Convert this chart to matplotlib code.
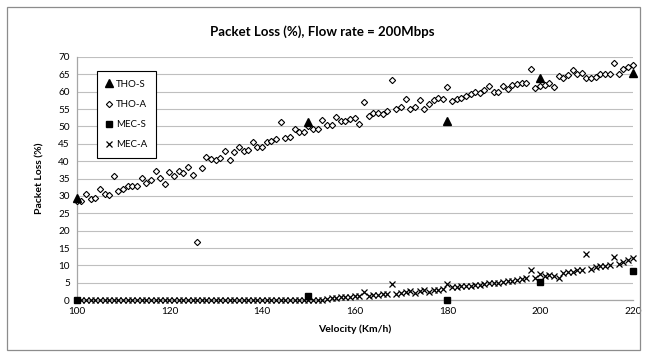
import numpy as np
import matplotlib.pyplot as plt
from matplotlib.patches import Rectangle

plt.rcParams['font.family'] = ['Lato', 'DejaVu Sans']

# velocity axis (km/h), one sample per km/h for the "A" series
velocity = list(range(100, 221))

tho_a = [28.5, 28.5, 30.5, 29.0, 29.5, 32.1, 30.5, 30.2, 35.7, 31.4,
         32.1, 32.8, 32.8, 32.8, 35.2, 33.7, 34.6, 37.3, 35.2, 33.3,
         37.0, 35.6, 37.3, 36.5, 38.2, 36.1, 16.7, 38.0, 41.3, 40.5,
         40.2, 40.8, 43.0, 40.2, 42.5, 44.0, 43.0, 43.2, 45.4, 44.0,
         44.2, 45.6, 45.9, 46.4, 51.3, 46.8, 47.0, 49.4, 48.3, 48.3,
         50.0, 49.4, 49.3, 51.9, 50.4, 50.5, 52.8, 51.5, 51.5, 52.0,
         52.4, 50.6, 57.1, 52.9, 53.9, 53.9, 53.7, 54.4, 63.3, 55.0,
         55.5, 57.8, 55.0, 55.5, 57.7, 55.0, 56.4, 57.7, 58.3, 58.0,
         61.4, 57.3, 57.8, 58.3, 58.9, 59.3, 60.0, 59.5, 60.6, 61.7,
         59.8, 60.0, 61.7, 60.9, 61.9, 62.2, 62.4, 62.4, 66.6, 61.2,
         61.5, 62.0, 62.6, 61.4, 64.5, 63.9, 64.7, 66.2, 65.2, 65.5,
         64.0, 63.9, 64.3, 65.0, 65.2, 65.2, 68.4, 65.2, 66.6, 67.2,
         67.7]

mec_a = [0.0] * 54 + [
    0.3, 0.5, 0.6, 0.8, 1.0, 1.0, 1.2, 1.3, 2.3, 1.3,
    1.5, 1.5, 1.7, 1.8, 4.6, 1.7, 2.0, 2.2, 2.5, 2.0,
    2.7, 3.0, 2.4, 2.8, 3.0, 3.3, 4.5, 3.8, 3.9, 4.0,
    4.1, 4.2, 4.3, 4.4, 4.6, 4.8, 4.9, 5.0, 5.2, 5.4,
    5.5, 5.7, 6.0, 6.3, 8.8, 6.5, 7.5, 6.8, 7.2, 6.9,
    6.3, 7.8, 8.2, 8.0, 8.8, 8.6, 13.4, 9.0, 9.4, 9.7,
    9.9, 10.2, 12.4, 10.5, 11.0, 11.5, 12.0]

# simulated points
sim_velocity = [100, 150, 180, 200, 220]
tho_s = [29.5, 51.2, 51.5, 64.0, 65.5]
mec_s = [0.0, 1.1, 0.0, 5.1, 8.4]

fig = plt.figure(figsize=(6.45, 3.56), dpi=100)
ax = fig.add_axes([0.119, 0.157, 0.862, 0.683])

grid_c = '#bfbfbf'
ax.set_xlim(100, 220)
ax.set_ylim(0, 70)
ax.set_xticks(range(100, 221, 20))
ax.set_yticks(range(0, 71, 5))
ax.yaxis.grid(True, color=grid_c, linewidth=0.8)
ax.set_axisbelow(True)
for s in ['top', 'right']:
    ax.spines[s].set_visible(False)
for s in ['left', 'bottom']:
    ax.spines[s].set_color('#a6a6a6')
    ax.spines[s].set_linewidth(0.9)
ax.tick_params(length=0, labelsize=7.2, pad=5)

ax.plot(sim_velocity, tho_s, linestyle='none', marker='^', ms=5.5,
        color='black', label='THO-S', zorder=4, clip_on=False)
ax.plot(velocity, tho_a, linestyle='none', marker='D', ms=3.2,
        mfc='white', mec='black', mew=0.8, label='THO-A', zorder=3, clip_on=False)
ax.plot(sim_velocity, mec_s, linestyle='none', marker='s', ms=5,
        color='black', label='MEC-S', zorder=4, clip_on=False)
ax.plot(velocity, mec_a, linestyle='none', marker='x', ms=4.6,
        mec='black', mew=0.9, label='MEC-A', zorder=3, clip_on=False)

ax.set_xlabel('Velocity (Km/h)', fontsize=7.5, fontweight='bold', labelpad=6)
ax.set_ylabel('Packet Loss (%)', fontsize=7.5, fontweight='bold', labelpad=10)
fig.suptitle('Packet Loss (%), Flow rate = 200Mbps', fontsize=9.5,
             fontweight='bold', y=0.928)

leg = ax.legend(loc='upper left', bbox_to_anchor=(0.027, 0.962), fontsize=7,
                labelspacing=1.15, handlelength=0.8, handletextpad=0.3,
                borderpad=0.9, fancybox=False, framealpha=1)
leg.get_frame().set_edgecolor('black')
leg.get_frame().set_linewidth(0.8)

fig.patches.append(Rectangle((0.011, 0.017), 0.981, 0.962, transform=fig.transFigure,
                             fill=False, edgecolor='#8c8c8c', linewidth=0.9))

fig.savefig('out.png', dpi=100)
